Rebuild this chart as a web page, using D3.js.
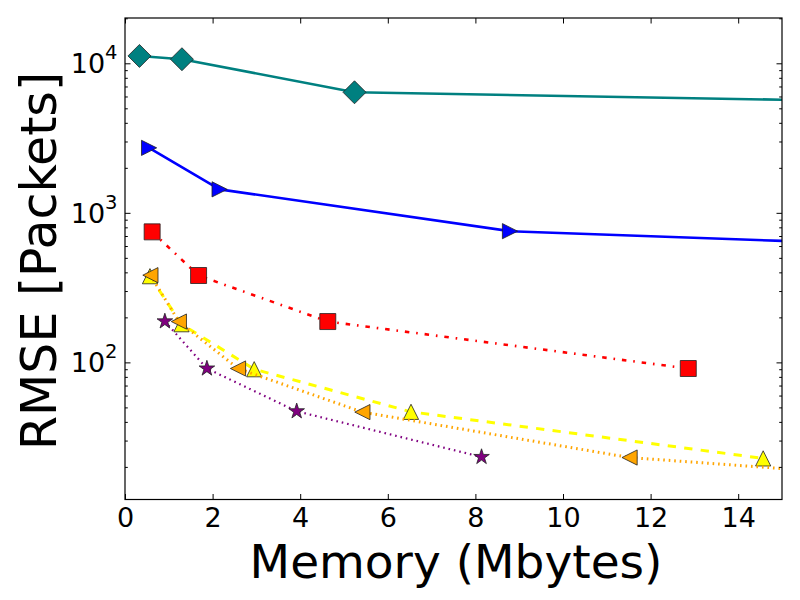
<!DOCTYPE html>
<html><head><meta charset="utf-8">
<script src="https://cdn.jsdelivr.net/npm/d3@7"></script>
<style>body{margin:0;background:#fff}text{font-family:"DejaVu Sans",sans-serif}</style>
</head><body><svg id="c" width="800" height="600"></svg>
<script>
// ---- data ----
const xTicks = [0, 2, 4, 6, 8, 10, 12, 14];
const yMajorTicks = [100, 1000, 10000];
const yMinorTicks = [20,30,40,50,60,70,80,90,200,300,400,500,600,700,800,900,2000,3000,4000,5000,6000,7000,8000,9000,20000];
const xLabel = "Memory (Mbytes)";
const yLabel = "RMSE [Packets]";

const tealMem = [0.33, 1.30, 5.24, 20.9];
const tealRmse = [11200, 10650, 6400, 5320];
const blueMem = [0.55, 2.16, 8.79, 35];
const blueRmse = [2720, 1436, 754, 401];
const redMem = [0.62, 1.68, 4.63, 12.86];
const redRmse = [746, 381, 187.5, 91];
const yellowMem = [0.57, 1.29, 2.95, 6.53, 14.57];
const yellowRmse = [377, 180, 90, 46.7, 22.8];
const orangeMem = [0.58, 1.23, 2.58, 5.42, 11.52, 23];
const orangeRmse = [383, 187.5, 91, 46.5, 23.1, 13.2];
const purpleMem = [0.91, 1.87, 3.92, 8.14];
const purpleRmse = [188, 91, 47.1, 23.3];

// ---- styles ----
const series = [
  {mem: tealMem, rmse: tealRmse, color: "#008080", marker: "diamond", width: 2.6, dash: null},
  {mem: blueMem, rmse: blueRmse, color: "#0000ff", marker: "triRight", width: 2.6, dash: null},
  {mem: redMem, rmse: redRmse, color: "#ff0000", marker: "square", width: 2.6, dash: "4.5,6.9,1.6,6.9"},
  {mem: yellowMem, rmse: yellowRmse, color: "#ffff00", marker: "triUp", width: 3, dash: "8.3,8.3"},
  {mem: orangeMem, rmse: orangeRmse, color: "#ffa500", marker: "triLeft", width: 3, dash: "1.6,3.9"},
  {mem: purpleMem, rmse: purpleRmse, color: "#800080", marker: "star", width: 2.2, dash: "1.6,3.9"}
];

const svg = d3.select("#c");
const L = 125, R = 782, T = 18, B = 499.5;
const x = d3.scaleLinear().domain([0, 15]).range([L, R]);
const y = d3.scaleLog().domain([Math.pow(10, 1.083), Math.pow(10, 4.303)]).range([B, T]);

svg.append("rect").attr("width", 800).attr("height", 600).attr("fill", "#fff");

svg.append("defs").append("clipPath").attr("id", "clip")
  .append("rect").attr("x", L).attr("y", T).attr("width", R - L).attr("height", B - T);

function markerPath(type) {
  const s = 7.6, h = 11.5, q = 8;
  switch (type) {
    case "diamond": return `M0,${-h}L${h},0L0,${h}L${-h},0Z`;
    case "triRight": return `M${s},0L${-s},${-s}L${-s},${s}Z`;
    case "triLeft": return `M${-s},0L${s},${-s}L${s},${s}Z`;
    case "triUp": return `M0,${-s}L${s},${s}L${-s},${s}Z`;
    case "square": return `M${-q},${-q}H${q}V${q}H${-q}Z`;
    case "star": {
      const Ro = 8.2, Ri = Ro * 0.381966; let p = "";
      for (let i = 0; i < 10; i++) {
        const r = i % 2 ? Ri : Ro, a = -Math.PI / 2 + i * Math.PI / 5;
        p += (i ? "L" : "M") + (r * Math.cos(a)).toFixed(2) + "," + (r * Math.sin(a)).toFixed(2);
      }
      return p + "Z";
    }
  }
}

const plot = svg.append("g").attr("clip-path", "url(#clip)");
const line = d3.line().x(d => x(d[0])).y(d => y(d[1]));
series.forEach(s => {
  const pts = s.mem.map((m, i) => [m, s.rmse[i]]);
  const g = plot.append("g");
  g.append("path").datum(pts).attr("d", line).attr("fill", "none")
    .attr("stroke", s.color).attr("stroke-width", s.width)
    .attr("stroke-dasharray", s.dash).attr("stroke-linejoin", "round");
  g.selectAll("path.m").data(pts).join("path").attr("class", "m")
    .attr("d", markerPath(s.marker))
    .attr("transform", d => `translate(${x(d[0])},${y(d[1])})`)
    .attr("fill", s.color).attr("stroke", "#222").attr("stroke-width", 0.8);
});

// ---- axes ----
function styleAxis(g) {
  g.select(".domain").remove();
  g.selectAll(".tick line").attr("stroke", "#000").attr("stroke-width", 1);
}
const fs = 27;
svg.append("g").attr("transform", `translate(0,${B})`)
  .call(d3.axisBottom(x).tickValues(xTicks).tickSizeInner(-5.5).tickSizeOuter(0).tickPadding(8).tickFormat(d3.format("d")))
  .call(styleAxis)
  .call(g => g.selectAll("text").attr("font-size", fs).attr("fill", "#000").attr("font-family", "DejaVu Sans"));
svg.append("g").attr("transform", `translate(0,${T})`)
  .call(d3.axisTop(x).tickValues(xTicks).tickSizeInner(-5.5).tickSizeOuter(0).tickFormat(""))
  .call(styleAxis);

const yl = svg.append("g").attr("transform", `translate(${L},0)`)
  .call(d3.axisLeft(y).tickValues(yMajorTicks).tickSizeInner(-5.5).tickSizeOuter(0).tickPadding(7.5).tickFormat(""))
  .call(styleAxis);
yl.selectAll(".tick text").each(function(d) {
  const t = d3.select(this).attr("font-size", fs).attr("fill", "#000").attr("dy", "0.35em")
    .attr("font-family", "DejaVu Sans");
  t.text(null);
  t.append("tspan").text("10");
  t.append("tspan").attr("dy", -14).attr("font-size", 19.5).text(Math.round(Math.log10(d)));
});
svg.append("g").attr("transform", `translate(${L},0)`)
  .call(d3.axisLeft(y).tickValues(yMinorTicks).tickSizeInner(-2.8).tickSizeOuter(0).tickFormat(""))
  .call(styleAxis);
svg.append("g").attr("transform", `translate(${R},0)`)
  .call(d3.axisRight(y).tickValues(yMajorTicks).tickSizeInner(-5.5).tickSizeOuter(0).tickFormat(""))
  .call(styleAxis);
svg.append("g").attr("transform", `translate(${R},0)`)
  .call(d3.axisRight(y).tickValues(yMinorTicks).tickSizeInner(-2.8).tickSizeOuter(0).tickFormat(""))
  .call(styleAxis);

svg.append("rect").attr("x", L).attr("y", T).attr("width", R - L).attr("height", B - T)
  .attr("fill", "none").attr("stroke", "#000").attr("stroke-width", 1.2);

svg.append("text").attr("x", 456).attr("y", 578).attr("text-anchor", "middle")
  .attr("font-size", 47).attr("fill", "#000").text(xLabel);
svg.append("text").attr("transform", `translate(56,261) rotate(-90)`).attr("text-anchor", "middle")
  .attr("font-size", 49).attr("fill", "#000").text(yLabel);
</script></body></html>
